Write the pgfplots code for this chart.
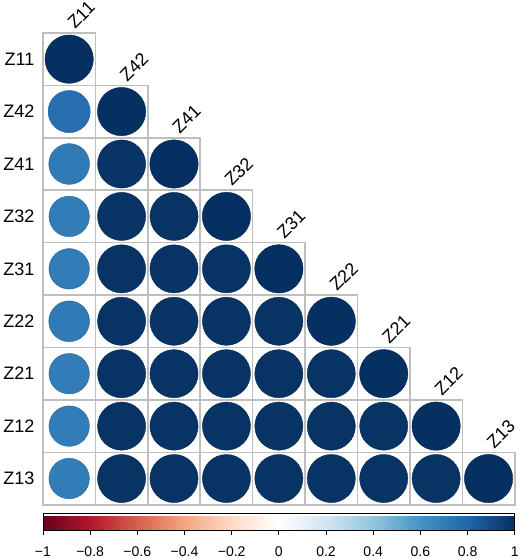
\documentclass[border=0pt]{standalone}
\usepackage{pgfplots}
\usepackage{pgfplotstable}
\pgfplotsset{compat=1.18}
\usepackage{fontspec}
\setmainfont{Liberation Sans}
\definecolor{gridgray}{RGB}{190,190,190}
\begin{document}
\begin{tikzpicture}
\pgfplotstableread{
x y r
1 9 1.00
1 8 0.76
2 8 1.00
1 7 0.71
2 7 0.99
3 7 1.00
1 6 0.70
2 6 0.99
3 6 0.99
4 6 1.00
1 5 0.70
2 5 0.99
3 5 0.99
4 5 0.99
5 5 1.00
1 4 0.71
2 4 0.99
3 4 0.99
4 4 0.99
5 4 0.99
6 4 1.00
1 3 0.70
2 3 0.99
3 3 0.99
4 3 0.99
5 3 0.99
6 3 0.99
7 3 1.00
1 2 0.70
2 2 0.99
3 2 0.99
4 2 0.99
5 2 0.99
6 2 0.99
7 2 0.99
8 2 1.00
1 1 0.70
2 1 0.99
3 1 0.99
4 1 0.99
5 1 0.99
6 1 0.99
7 1 0.99
8 1 0.99
9 1 1.00
}\corr
\pgfplotstableread{
x y lab
1 9.5 Z11
2 8.5 Z42
3 7.5 Z41
4 6.5 Z32
5 5.5 Z31
6 4.5 Z22
7 3.5 Z21
8 2.5 Z12
9 1.5 Z13
}\labs
\begin{axis}[
  scale only axis, width=471pt, height=471pt,
  xmin=0.5, xmax=9.5, ymin=0.5, ymax=9.5,
  clip=false,
  axis line style={draw=none},
  xtick=\empty,
  ytick={1,2,3,4,5,6,7,8,9},
  yticklabels={Z13,Z12,Z21,Z22,Z31,Z32,Z41,Z42,Z11},
  major tick length=0pt,
  yticklabel style={font=\fontsize{18}{20}\selectfont, xshift=-5pt},
  colormap={corr}{rgb255=(103,0,31) rgb255=(178,24,43) rgb255=(214,96,77) rgb255=(244,165,130) rgb255=(253,219,199) rgb255=(255,255,255) rgb255=(209,229,240) rgb255=(146,197,222) rgb255=(67,147,195) rgb255=(33,102,172) rgb255=(5,48,97)},
  point meta min=-1, point meta max=1,
  colorbar horizontal,
  colorbar style={
    at={(parent axis.south west)}, anchor=north west, yshift=0pt,
    scale only axis, width=471pt, height=17.5pt,
    axis line style={black, line width=0.9pt},
    xtick={-1,-0.8,-0.6,-0.4,-0.2,0,0.2,0.4,0.6,0.8,1},
    xticklabels={−1,−0.8,−0.6,−0.4,−0.2,0,0.2,0.4,0.6,0.8,1},
    xtick pos=lower, xticklabel pos=lower,
    xtick align=outside,
    major tick length=4pt,
    every tick/.style={black, line width=0.8pt},
    xticklabel style={font=\fontsize{14}{16}\selectfont, inner sep=2pt, yshift=-10pt},
  },
]
\addplot[only marks, mark=square, mark size=26.17pt,
  mark options={draw=gridgray, line width=1.6pt}] table[x=x,y=y] {\corr};
\addplot[scatter, only marks, mark=*,
  point meta=\thisrow{r},
  visualization depends on={24.15*sqrt(abs(\thisrow{r})) \as \rad},
  scatter/@pre marker code/.append style={/tikz/mark size=\rad}]
  table[x=x,y=y] {\corr};
\addplot[draw=none, mark=none,
  nodes near coords={\phantom{\pgfplotspointmeta}\pgfplotspointmeta},
  point meta=explicit symbolic,
  nodes near coords style={xshift=6pt, yshift=3pt, rotate=45, inner sep=0pt,
    font=\fontsize{18}{20}\selectfont, text=black}]
  table[x=x,y=y,meta=lab] {\labs};
\end{axis}
\end{tikzpicture}
\end{document}
